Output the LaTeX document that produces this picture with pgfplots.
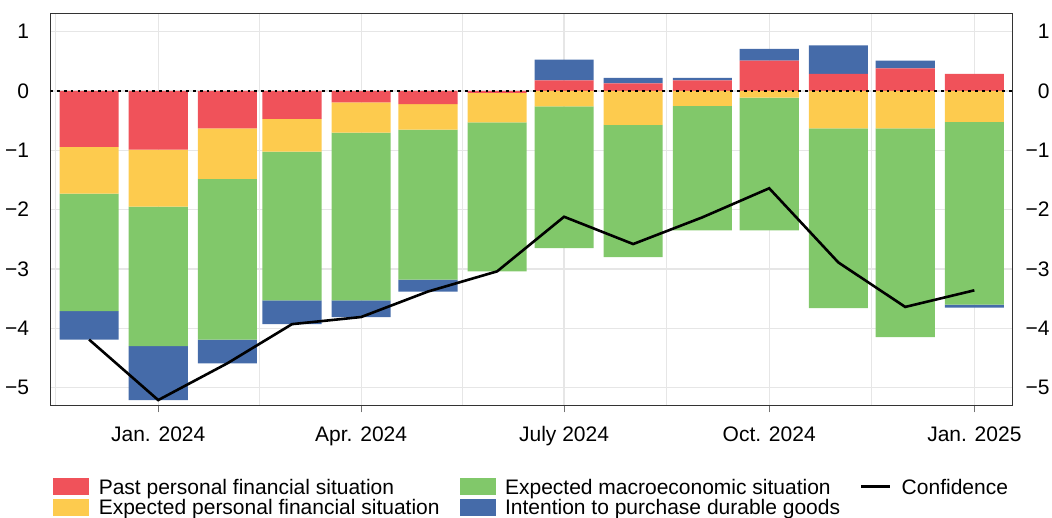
\documentclass[border=0pt]{standalone}
\usepackage{fontspec}
\setmainfont{Liberation Sans}
\usepackage{pgfplots}
\usepackage{pgfplotstable}
\pgfplotsset{compat=1.18}
\definecolor{cred}{RGB}{240,82,90}
\definecolor{cyel}{RGB}{253,203,78}
\definecolor{cgrn}{RGB}{129,200,106}
\definecolor{cblu}{RGB}{69,107,169}
\definecolor{cgrid}{RGB}{230,230,230}
\newcommand{\tfont}{\fontsize{21bp}{25bp}\selectfont}
% x = days since 1 Jan 2024 (bars at the first of each month)
\pgfplotstableread{
x    rn     yn     gn     bn     rp    bp    c
-31  -0.94  -0.79  -1.98  -0.48  0     0     -4.19
0    -0.99  -0.96  -2.35  -0.91  0     0     -5.21
31   -0.63  -0.85  -2.71  -0.40  0     0     -4.59
60   -0.47  -0.55  -2.51  -0.40  0     0     -3.93
91   -0.19  -0.51  -2.83  -0.28  0     0     -3.81
121  -0.22  -0.43  -2.53  -0.20  0     0     -3.38
152  -0.03  -0.50  -2.51  0      0     0     -3.04
182  0      -0.26  -2.39  0      0.18  0.35  -2.12
213  0      -0.57  -2.23  0      0.13  0.09  -2.58
244  0      -0.25  -2.10  0      0.18  0.04  -2.13
274  0      -0.11  -2.24  0      0.51  0.20  -1.64
305  0      -0.63  -3.03  0      0.29  0.48  -2.89
335  0      -0.63  -3.52  0      0.38  0.13  -3.64
366  0      -0.52  -3.08  -0.05  0.29  0     -3.36
}\data
\begin{document}
\begin{tikzpicture}
\pgfplotsset{
  common/.style={
    scale only axis, width=962.4bp, height=391.6bp,
    xmin=-48.4, xmax=383.2, ymin=-5.298, ymax=1.303,
    ytick={-5,-4,-3,-2,-1,0,1},
    yticklabels={−5,−4,−3,−2,−1,0,1},
    ticklabel style={font=\tfont},
  }
}
\begin{axis}[common, name=ax,
  ybar stacked, stack negative=separate, bar width=26.5,
  axis line style={draw=black!80, line width=1bp},
  xtick={0,91,182,274,366},
  xticklabels={Jan. 2024, Apr. 2024, July 2024, Oct. 2024, Jan. 2025},
  minor xtick={-46,45.5,136.5,228,320},
  xtick pos=bottom, tick align=outside,
  major tick length=7bp, minor tick length=0pt,
  xtick style={draw=black!55, line width=1bp},
  ytick style={draw=none},
  ytick pos=left,
  grid=both,
  grid style={draw=cgrid, line width=1.2bp},
  minor grid style={draw=cgrid, line width=1.2bp},
  every x tick label/.append style={anchor=base, inner sep=0pt, yshift=-28.7bp},
  every y tick label/.append style={anchor=east, inner sep=0pt, xshift=-14bp},
  legend columns=3,
  legend cell align=left,
  legend style={at={(0.003,-0.1857)}, anchor=north west, draw=none, fill=none,
     inner sep=0pt, row sep=4bp, font=\tfont,
     nodes={inner sep=0pt, text height=16bp, text depth=0bp},
     /tikz/every odd column/.append style={column sep=10bp},
     /tikz/every even column/.append style={column sep=20bp}},
]
\addplot[fill=cred, draw=none, forget plot] table[x=x, y=rn] \data;
\addplot[fill=cyel, draw=none, forget plot] table[x=x, y=yn] \data;
\addplot[fill=cgrn, draw=none, forget plot] table[x=x, y=gn] \data;
\addplot[fill=cblu, draw=none, forget plot] table[x=x, y=bn] \data;
\addplot[fill=cred, draw=none, forget plot] table[x=x, y=rp] \data;
\addplot[fill=cblu, draw=none, forget plot] table[x=x, y=bp] \data;
\addlegendimage{legend image code/.code={\fill[cred] (0bp,-8bp) rectangle (35bp,8bp);}}
\addlegendentry{Past personal financial situation}
\addlegendimage{legend image code/.code={\fill[cgrn] (0bp,-8bp) rectangle (35bp,8bp);}}
\addlegendentry{Expected macroeconomic situation}
\addlegendimage{legend image code/.code={\draw[black, line width=2.6bp] (0bp,0bp) -- (29bp,0bp);}}
\addlegendentry{Confidence}
\addlegendimage{legend image code/.code={\fill[cyel] (0bp,-8bp) rectangle (35bp,8bp);}}
\addlegendentry{Expected personal financial situation}
\addlegendimage{legend image code/.code={\fill[cblu] (0bp,-8bp) rectangle (35bp,8bp);}}
\addlegendentry{Intention to purchase durable goods}
\end{axis}
\begin{axis}[common, at={(ax.south west)}, anchor=south west,
  axis x line=none, axis y line*=right,
  y axis line style={draw=none}, ytick style={draw=none},
  every y tick label/.append style={anchor=east, inner sep=0pt, xshift=37bp},
]
\addplot[black, line width=2.6bp, dash pattern=on 2.6bp off 4.2bp, mark=none] coordinates {(-48.4,0) (383.2,0)};
\addplot[black, line width=2.6bp, mark=none] table[x=x, y=c] \data;
\end{axis}
\pgfresetboundingbox
\path (ax.south west) ++(-50.3bp,-112.7bp) rectangle ++(1052bp,518bp);
\end{tikzpicture}
\end{document}
